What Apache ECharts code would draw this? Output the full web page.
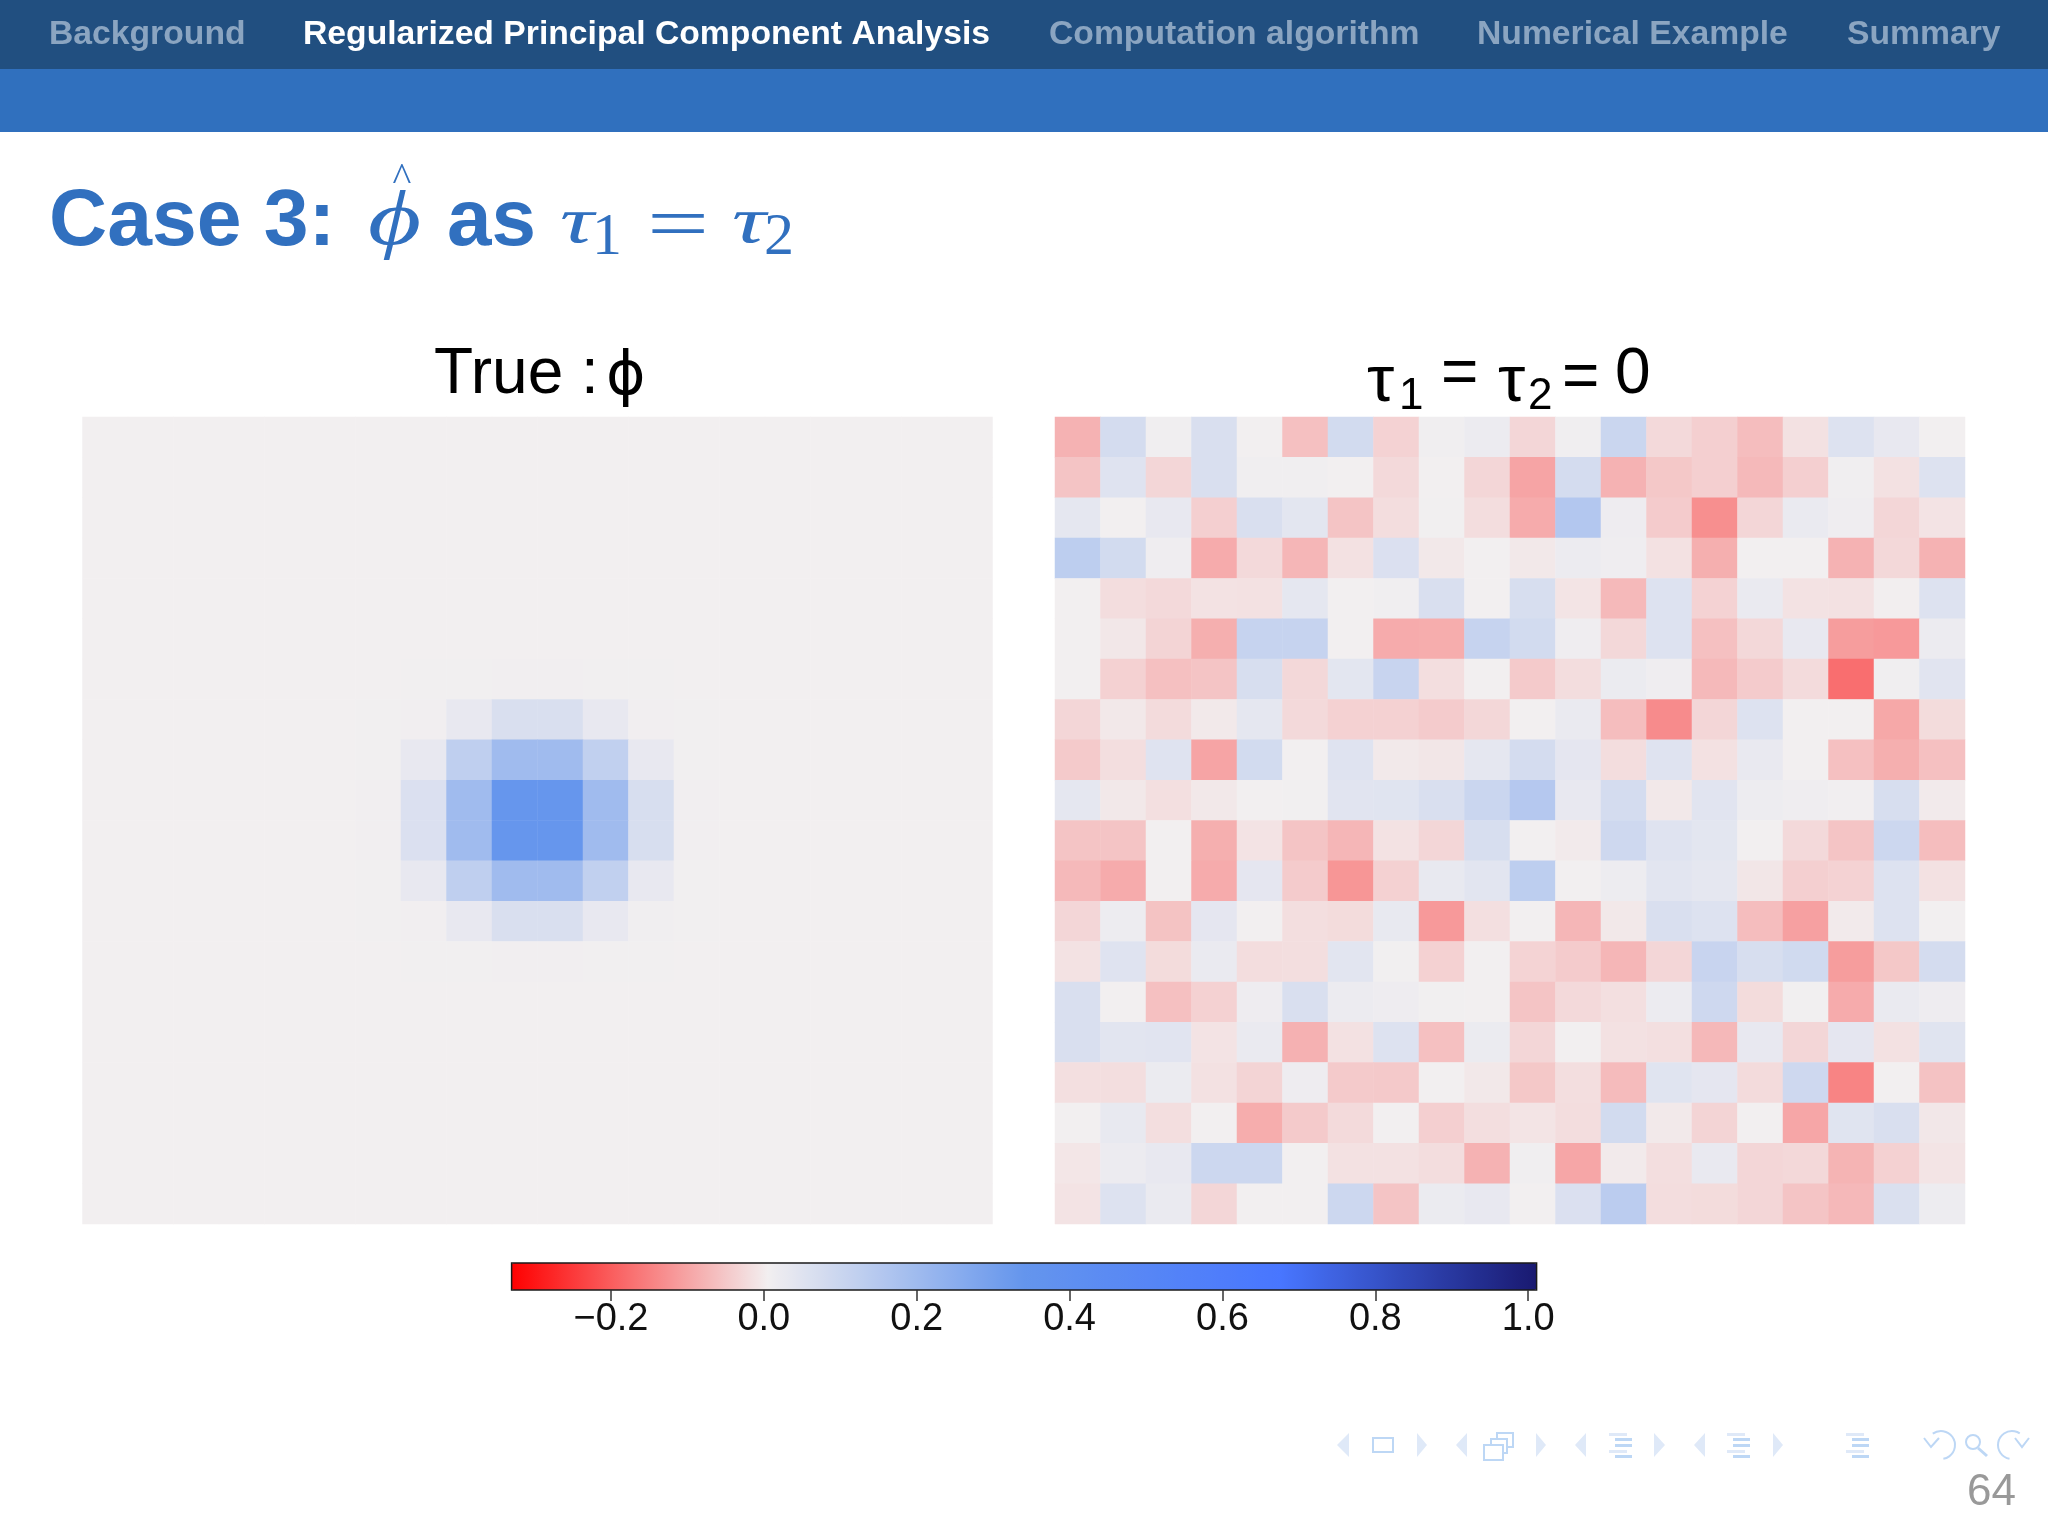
<!DOCTYPE html>
<html><head><meta charset="utf-8">
<style>html,body{margin:0;padding:0;background:#fff}#c{width:2048px;height:1536px}</style>
<script src="https://cdn.jsdelivr.net/npm/echarts@6/dist/echarts.min.js"></script>
</head><body><div id="c"></div>
<script>
const navItems = ["Background","Regularized Principal Component Analysis","Computation algorithm","Numerical Example","Summary"];
const colorTicks = [-0.2,0,0.2,0.4,0.6,0.8,1.0];
const colorStops = ["#ff0000","#f2eff0","#6495ed","#4876ff","#191970"];
const colorMin = -0.33, colorMax = 1.011;
const Z = 0.005;
const trueValues = [
[Z,Z,Z,Z,Z,Z,Z,Z,Z,Z,Z,Z,Z,Z,Z,Z,Z,Z,Z,Z],
[Z,Z,Z,Z,Z,Z,Z,Z,Z,Z,Z,Z,Z,Z,Z,Z,Z,Z,Z,Z],
[Z,Z,Z,Z,Z,Z,Z,Z,Z,Z,Z,Z,Z,Z,Z,Z,Z,Z,Z,Z],
[Z,Z,Z,Z,Z,Z,Z,Z,Z,Z,Z,Z,Z,Z,Z,Z,Z,Z,Z,Z],
[Z,Z,Z,Z,Z,Z,Z,Z,Z,Z,Z,Z,Z,Z,Z,Z,Z,Z,Z,Z],
[Z,Z,Z,Z,Z,Z,Z,Z,Z,Z,Z,Z,Z,Z,Z,Z,Z,Z,Z,Z],
[Z,Z,Z,Z,Z,Z,Z,0.007,0.007,0.008,0.008,0.007,0.007,Z,Z,Z,Z,Z,Z,Z],
[Z,Z,Z,Z,Z,Z,0.007,0.008,0.03,0.065,0.065,0.03,0.008,0.007,Z,Z,Z,Z,Z,Z],
[Z,Z,Z,Z,Z,Z,0.007,0.03,0.125,0.2,0.2,0.12,0.03,0.007,Z,Z,Z,Z,Z,Z],
[Z,Z,Z,Z,Z,Z,0.008,0.06,0.2,0.335,0.335,0.2,0.07,0.008,Z,Z,Z,Z,Z,Z],
[Z,Z,Z,Z,Z,Z,0.008,0.06,0.2,0.335,0.335,0.2,0.07,0.008,Z,Z,Z,Z,Z,Z],
[Z,Z,Z,Z,Z,Z,0.007,0.03,0.125,0.2,0.2,0.12,0.03,0.007,Z,Z,Z,Z,Z,Z],
[Z,Z,Z,Z,Z,Z,0.007,0.008,0.03,0.065,0.065,0.03,0.01,0.007,Z,Z,Z,Z,Z,Z],
[Z,Z,Z,Z,Z,Z,Z,0.007,0.007,0.008,0.008,0.007,0.007,Z,Z,Z,Z,Z,Z,Z],
[Z,Z,Z,Z,Z,Z,Z,Z,Z,Z,Z,Z,Z,Z,Z,Z,Z,Z,Z,Z],
[Z,Z,Z,Z,Z,Z,Z,Z,Z,Z,Z,Z,Z,Z,Z,Z,Z,Z,Z,Z],
[Z,Z,Z,Z,Z,Z,Z,Z,Z,Z,Z,Z,Z,Z,Z,Z,Z,Z,Z,Z],
[Z,Z,Z,Z,Z,Z,Z,Z,Z,Z,Z,Z,Z,Z,Z,Z,Z,Z,Z,Z],
[Z,Z,Z,Z,Z,Z,Z,Z,Z,Z,Z,Z,Z,Z,Z,Z,Z,Z,Z,Z],
[Z,Z,Z,Z,Z,Z,Z,Z,Z,Z,Z,Z,Z,Z,Z,Z,Z,Z,Z,Z]
];
const estimateValues = [
[-0.08,0.075,0.01,0.065,Z,-0.06,0.08,-0.035,0.01,0.02,-0.03,0.01,0.1,-0.025,-0.04,-0.065,-0.015,0.055,0.03,Z],
[-0.055,0.05,-0.03,0.065,0.01,0.01,Z,-0.025,Z,-0.03,-0.1,0.075,-0.08,-0.05,-0.04,-0.07,-0.04,0.01,-0.015,0.055],
[0.035,Z,0.03,-0.04,0.065,0.04,-0.055,-0.02,0.007,-0.02,-0.09,0.155,0.015,-0.045,-0.13,-0.03,0.025,0.012,-0.03,-0.012],
[0.13,0.08,0.012,-0.09,-0.025,-0.075,-0.015,0.06,-0.005,Z,-0.005,0.02,0.012,-0.015,-0.085,Z,Z,-0.08,-0.027,-0.08],
[0.006,-0.02,-0.025,-0.013,-0.014,0.035,Z,0.01,0.065,Z,0.07,-0.01,-0.07,0.055,-0.035,0.025,-0.013,-0.014,0.004,0.055],
[Z,-0.006,-0.033,-0.085,0.11,0.11,Z,-0.09,-0.088,0.11,0.08,0.012,-0.027,0.055,-0.06,-0.027,0.03,-0.11,-0.115,0.02],
[Z,-0.037,-0.06,-0.055,0.07,-0.027,0.04,0.105,-0.018,Z,-0.047,-0.02,0.022,0.012,-0.07,-0.045,-0.023,-0.175,0.01,0.045],
[-0.03,-0.005,-0.023,-0.003,0.035,-0.025,-0.037,-0.037,-0.045,-0.028,Z,0.025,-0.065,-0.135,-0.03,0.055,Z,Z,-0.095,-0.022],
[-0.047,-0.018,0.05,-0.1,0.08,0.006,0.05,-0.003,-0.007,0.035,0.075,0.037,-0.02,0.05,-0.014,0.027,Z,-0.06,-0.085,-0.06],
[0.035,-0.004,-0.017,-0.004,Z,0.007,0.045,0.047,0.065,0.1,0.15,0.03,0.075,-0.004,0.045,0.017,0.012,0.008,0.07,-0.002],
[-0.055,-0.055,Z,-0.085,-0.012,-0.055,-0.075,-0.013,-0.03,0.07,0.006,-0.002,0.09,0.05,0.04,Z,-0.025,-0.055,0.095,-0.065],
[-0.07,-0.09,Z,-0.09,0.037,-0.045,-0.12,-0.037,0.028,0.043,0.13,0.006,0.018,0.043,0.035,-0.007,-0.04,-0.035,0.055,-0.015],
[-0.03,0.018,-0.057,0.037,Z,-0.018,-0.022,0.028,-0.115,-0.017,Z,-0.075,-0.004,0.065,0.055,-0.065,-0.105,-0.002,0.055,Z],
[-0.013,0.05,-0.022,0.024,-0.02,-0.018,0.042,0.007,-0.037,Z,-0.034,-0.045,-0.075,-0.03,0.105,0.07,0.085,-0.11,-0.05,0.075],
[0.065,Z,-0.06,-0.037,0.015,0.065,0.02,0.015,0.007,Z,-0.055,-0.025,-0.017,0.02,0.09,-0.022,0.007,-0.09,0.025,0.015],
[0.065,0.043,0.045,-0.012,0.023,-0.082,-0.015,0.055,-0.06,0.022,-0.03,Z,-0.015,-0.017,-0.072,0.03,-0.03,0.037,-0.014,0.047],
[-0.017,-0.018,0.022,-0.014,-0.032,0.015,-0.047,-0.048,Z,-0.004,-0.05,-0.018,-0.067,0.047,0.037,-0.023,0.09,-0.145,Z,-0.058],
[Z,0.028,-0.018,0.006,-0.088,-0.047,-0.024,Z,-0.04,-0.018,-0.01,-0.02,0.08,-0.003,-0.032,Z,-0.097,0.047,0.065,-0.006],
[-0.008,0.02,0.03,0.095,0.095,Z,-0.015,-0.015,-0.02,-0.08,0.01,-0.097,-0.002,-0.018,0.027,-0.03,-0.027,-0.078,-0.037,-0.01],
[-0.012,0.055,0.025,-0.03,Z,0.006,0.095,-0.055,0.022,0.03,Z,0.06,0.135,-0.02,-0.022,-0.03,-0.055,-0.072,0.062,0.017]
];

const idx = Array.from({length:20},(_,i)=>i);
const toCells = m => m.flatMap((row,r)=>row.map((v,c)=>[c,r,v]));

const SANS = '"Liberation Sans",Arial,sans-serif';
const SERIF = '"Liberation Serif",serif';
const BLUE = '#3170bf';
const txt = (t,x,y,size,fill,opt={}) => ({type:'text',x,y,scaleX:opt.sx||1,z:20,silent:true,style:{text:t,fill,
  font:`${opt.style||'normal'} ${opt.weight||'normal'} ${size}px ${opt.fam||SANS}`,
  textAlign:opt.align||'left',textVerticalAlign:'middle'}});
const NAV = '#bdd7f5', NAVL = '#dfe9f8';
const tri = (x1,x2,yc,h,c)=>({type:'polygon',z:20,silent:true,shape:{points:[[x1,yc],[x2,yc-h/2],[x2,yc+h/2]]},style:{fill:c}});
const lines = (x)=>[[0,1433,18,NAVL],[6,1438,17,NAV],[6,1444,17,NAV],[0,1450,18,NAVL],[6,1455,17,NAV]]
  .map(([dx,y,w,c])=>({type:'rect',z:20,silent:true,shape:{x:x+dx,y,width:w,height:3},style:{fill:c}}));
const frame = (x,y,w,h)=>({type:'rect',z:20,silent:true,shape:{x,y,width:w,height:h},style:{fill:'#fff',stroke:NAV,lineWidth:2}});
const arc = (cx,cy,r,s,e)=>({type:'arc',z:20,silent:true,shape:{cx,cy,r,startAngle:s,endAngle:e},style:{fill:null,stroke:NAV,lineWidth:2}});

const graphics = [
 {type:'rect',z:5,silent:true,shape:{x:0,y:0,width:2048,height:69},style:{fill:'#214f80'}},
 {type:'rect',z:5,silent:true,shape:{x:0,y:69,width:2048,height:63},style:{fill:'#3070be'}},
 txt(navItems[0],49,34.5,33.7,'#8ba5c1',{weight:'bold'}),
 txt(navItems[1],303,34.5,33.7,'#ffffff',{weight:'bold'}),
 txt(navItems[2],1049,34.5,33.7,'#8ba5c1',{weight:'bold'}),
 txt(navItems[3],1477,34.5,33.7,'#8ba5c1',{weight:'bold'}),
 txt(navItems[4],1847,34.5,33.7,'#8ba5c1',{weight:'bold'}),
 txt('Case 3:',49,223,80.5,BLUE,{weight:'bold'}),
 txt('ϕ',368,224,76,BLUE,{fam:SERIF,style:'italic',sx:1.35}),
 txt('^',402,180,40,BLUE,{fam:SERIF,align:'center'}),
 txt('as',447,223,80,BLUE,{weight:'bold'}),
 txt('τ',560,225,66,BLUE,{fam:SERIF,style:'italic',sx:1.43}),
 txt('1',592,238,60,BLUE,{fam:SERIF}),
 txt('=',647,229,76,BLUE,{fam:SERIF,sx:1.45}),
 txt('τ',732,225,66,BLUE,{fam:SERIF,style:'italic',sx:1.43}),
 txt('2',764,238,60,BLUE,{fam:SERIF}),
 txt('True :',434,375,64,'#000'),
 txt('ϕ',606,378,60,'#000',{fam:'"DejaVu Sans"'}),
 txt('τ',1367,383,64,'#000',{sx:1.08}),
 txt('1',1399,397,44,'#000'),
 txt('=',1441,375,64,'#000'),
 txt('τ',1498,383,64,'#000',{sx:1.08}),
 txt('2',1528,397,44,'#000'),
 txt('=',1562,379,64,'#000'),
 txt('0',1615,375,64,'#000'),
 tri(1337,1349,1445,24,NAVL), frame(1373,1438,20,14), tri(1427,1417,1445,24,NAVL),
 tri(1456,1467,1445,24,NAVL), frame(1497,1433,16,14), frame(1491,1439,16,14), frame(1484,1445,19,15), tri(1546,1536,1445,24,NAVL),
 tri(1575,1586,1445,24,NAVL), ...lines(1609), tri(1665,1654,1445,24,NAVL),
 tri(1694,1705,1445,24,NAVL), ...lines(1727), tri(1783,1773,1445,24,NAVL),
 ...lines(1846),
 arc(1941,1445,14,-2.2,1.4),
 {type:'polyline',z:20,silent:true,shape:{points:[[1924,1438],[1931,1447],[1939,1438]]},style:{fill:null,stroke:NAV,lineWidth:2}},
 {type:'circle',z:20,silent:true,shape:{cx:1973,cy:1442,r:7},style:{fill:null,stroke:NAV,lineWidth:2}},
 {type:'line',z:20,silent:true,shape:{x1:1978,y1:1448,x2:1987,y2:1456},style:{stroke:NAV,lineWidth:3}},
 arc(2012,1445,14,1.75,5.3),
 {type:'polyline',z:20,silent:true,shape:{points:[[2015,1438],[2022,1447],[2029,1438]]},style:{fill:null,stroke:NAV,lineWidth:2}},
 txt('64',1967,1493,44,'#999999')
];

const hiddenCat = gi => ({type:'category',gridIndex:gi,data:idx,show:false});
const chart = echarts.init(document.getElementById('c'),null,{renderer:'canvas',width:2048,height:1536});
chart.setOption({
  animation:false,
  backgroundColor:'#ffffff',
  grid:[
    {left:82.5,top:417,width:910,height:807},
    {left:1055,top:417,width:910,height:807},
    {left:511.6,top:1263,width:1025,height:27,show:true,backgroundColor:'transparent',borderColor:'#1a1a1a',borderWidth:1.5,z:10}
  ],
  xAxis:[hiddenCat(0),hiddenCat(1),{
    type:'value',gridIndex:2,min:colorMin,max:colorMax,z:10,
    axisLine:{show:false},splitLine:{show:false},
    axisTick:{show:true,length:11,customValues:colorTicks,lineStyle:{color:'#333',width:1.5}},
    axisLabel:{show:true,margin:11,customValues:colorTicks,color:'#111',fontFamily:'Liberation Sans',fontSize:38,
      formatter:v=>(v<0?'−':'')+Math.abs(v).toFixed(1)}
  }],
  yAxis:[
    Object.assign(hiddenCat(0),{inverse:true}),
    Object.assign(hiddenCat(1),{inverse:true}),
    {type:'value',gridIndex:2,min:0,max:1,show:false}
  ],
  visualMap:{
    type:'continuous',seriesIndex:[0,1],min:colorMin,max:colorMax,orient:'horizontal',
    left:511.6,top:1263,itemWidth:27,itemHeight:1025,padding:0,calculable:false,text:null,showLabel:false,
    hoverLink:false,inRange:{color:colorStops},z:4
  },
  series:[
    {name:'True',type:'heatmap',xAxisIndex:0,yAxisIndex:0,data:toCells(trueValues),silent:true,itemStyle:{borderWidth:0}},
    {name:'Estimate',type:'heatmap',xAxisIndex:1,yAxisIndex:1,data:toCells(estimateValues),silent:true,itemStyle:{borderWidth:0}}
  ],
  graphic:{elements:graphics}
});
</script></body></html>
